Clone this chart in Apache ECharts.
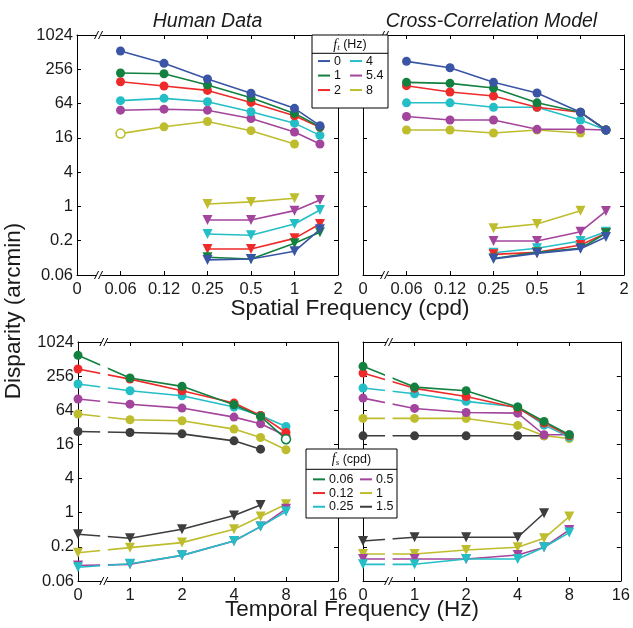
<!DOCTYPE html>
<html><head><meta charset="utf-8">
<script src="https://cdn.jsdelivr.net/npm/echarts@6/dist/echarts.min.js"></script>
<style>html,body{margin:0;padding:0;background:#fff}#c{width:633px;height:628px}</style>
</head><body><div id="c"></div>
<script>
// ---------------- DATA ----------------
const spatialFreqs = [0.0625, 0.125, 0.25, 0.5, 1, 1.5];   // cpd (plotted positions)
const temporalFreqs = [0, 1, 2, 4, 5.7, 8];                // Hz ("0" sits at the axis origin)
const spatialTickLabels = ['0', '0.06', '0.12', '0.25', '0.5', '1', '2'];
const temporalTickLabels = ['0', '1', '2', '4', '8', '16'];
const disparityTickLabels = ['0.06', '0.2', '1', '4', '16', '64', '256', '1024'];
const ftNames = ['0', '1', '2', '4', '5.4', '8'];           // f_t (Hz)
const fsNames = ['0.06', '0.12', '0.25', '0.5', '1', '1.5']; // f_s (cpd)

// Human data vs spatial frequency: upper thresholds (circles), one row per f_t
const humanSpatialUpper = [
  [536, 326, 173, 97, 52.8, 26.2],
  [220, 214, 136, 81, 43, 25],
  [155, 130, 109, 67, 39, 24.5],
  [72, 79, 69, 46, 29, 17.7],
  [49, 51, 49, 35, 20.3, 12.5],
  [19, 25, 31, 21.4, 12.5, null]
];
// Human data vs spatial frequency: lower thresholds (triangles)
const humanSpatialLower = [
  [null, null, 0.115, 0.119, 0.163, 0.396],
  [null, null, 0.128, 0.119, 0.225, 0.351],
  [null, null, 0.179, 0.179, 0.275, 0.49],
  [null, null, 0.328, 0.311, 0.49, 0.866],
  [null, null, 0.578, 0.578, 0.843, 1.30],
  [null, null, 1.10, 1.20, 1.39, null]
];
// Model vs spatial frequency
const modelSpatialUpper = [
  [353, 273, 151, 98, 45, 22],
  [151, 145, 120, 66, 45, 22],
  [132, 102, 87, 55, 45, 22],
  [66, 66, 55, 55, 33, 22],
  [38, 33, 33, 22.6, 22.6, 22],
  [22, 22, 19.5, 22, 19.5, null]
];
const modelSpatialLower = [
  [null, null, 0.12, 0.15, 0.18, 0.29],
  [null, null, 0.122, 0.156, 0.184, 0.337],
  [null, null, 0.144, 0.156, 0.21, 0.337],
  [null, null, 0.154, 0.184, 0.247, 0.36],
  [null, null, 0.247, 0.247, 0.36, 0.83],
  [null, null, 0.412, 0.49, 0.843, null]
];
// Human data vs temporal frequency, one row per f_s
const humanTemporalUpper = [
  [596, 237, 169, 80, 49.8, 19.8],
  [342, 227, 141.5, 85.7, 51.9, 26],
  [186, 141.5, 115.5, 73, 51.9, 33.2],
  [101, 82, 70, 48.5, 37, 22.7],
  [55, 43.5, 41.8, 29.8, 21.2, 12.9],
  [27.1, 26, 24.6, 18.5, 13.2, null]
];
const humanTemporalLower = [
  null,
  null,
  [0.109, 0.126, 0.177, 0.318, 0.569, 1.05],
  [0.117, 0.123, 0.177, 0.318, 0.569, 1.17],
  [0.197, 0.242, 0.297, 0.51, 0.855, 1.41],
  [0.417, 0.354, 0.51, 0.89, 1.37, null]
];
// Model vs temporal frequency
const modelTemporalUpper = [
  [381, 164, 141.5, 73, 40.7, 23.7],
  [290, 156, 112, 70, 38, 22.7],
  [158, 125, 92, 73, 35, 21.5],
  [105, 69, 58.6, 57, 23.7, 23.7],
  [46, 46, 46, 34.6, 22.7, 20.4],
  [22.7, 22.7, 22.7, 22.7, 22.7, null]
];
const modelTemporalLower = [
  null,
  null,
  [0.123, 0.123, 0.153, 0.153, 0.246, 0.446],
  [0.153, 0.153, 0.153, 0.18, 0.246, 0.497],
  [0.187, 0.187, 0.22, 0.246, 0.354, 0.855],
  [0.318, 0.369, 0.369, 0.369, 0.979, null]
];
// open (unfilled) markers: [panel, row, index]
const openMarkers = [['humanSpatialUpper', 5, 0], ['humanTemporalUpper', 0, 5]];

// ---------------- STYLE ----------------
const ftColors = ['#3a55a6', '#12803f', '#ee2a2a', '#23bec6', '#a3449d', '#bebd2e'];
const fsColors = ['#12803f', '#ee2a2a', '#23bec6', '#a3449d', '#bebd2e', '#3d3d3d'];
const FONT = '"Liberation Sans", Arial, Helvetica, sans-serif';
const grids = [
  {left: 77, top: 35, width: 261, height: 240},
  {left: 363, top: 35, width: 261, height: 240},
  {left: 78, top: 342, width: 260, height: 239},
  {left: 363, top: 342, width: 261, height: 239}
];
const SP_MIN = 2 ** -5, SP_MAX = 2, T_MIN = 0.5, T_MAX = 16;
// y axis is a base-2 logarithmic scale: value axis over log2(disparity)
const Y_MIN_EXP = -4, Y_MAX_EXP = 10, Y_STEP = 2;
const SP_BREAK = 2 ** -4.5, T_BREAK = 2 ** -0.5;

function labX(labels, minExp) {
  return v => {
    const e = Math.log2(v) - minExp;
    const i = Math.round(e);
    if (Math.abs(e - i) > 0.01) return '';
    return labels[i] !== undefined ? labels[i] : '';
  };
}
function xAxis(g, min, max, labels, minExp, top) {
  return {
    type: 'log', logBase: 2, gridIndex: g, min, max, interval: 1, position: top ? 'top' : 'bottom',
    axisLine: {show: true, onZero: false, lineStyle: {color: '#000', width: 1}},
    axisTick: {show: true, inside: true, length: 4, lineStyle: {color: '#000', width: 1}},
    minorTick: {show: false}, splitLine: {show: false},
    axisLabel: {show: !top, interval: 0, formatter: labX(labels, minExp), fontFamily: FONT,
      fontSize: 16.5, color: '#1a1a1a', margin: 6, hideOverlap: false}
  };
}
function yAxis(g, showLabel, right) {
  return {
    type: 'value', gridIndex: g, min: Y_MIN_EXP, max: Y_MAX_EXP, interval: Y_STEP, position: right ? 'right' : 'left',
    axisLine: {show: true, onZero: false, lineStyle: {color: '#000', width: 1}},
    axisTick: {show: true, inside: true, length: 4, lineStyle: {color: '#000', width: 1}},
    minorTick: {show: false}, splitLine: {show: false},
    axisLabel: {show: showLabel, interval: 0, fontFamily: FONT, fontSize: 16.5, color: '#1a1a1a', margin: 4, hideOverlap: false,
      formatter: v => disparityTickLabels[Math.round((v - Y_MIN_EXP) / Y_STEP)] || ''}
  };
}

const xAxes = [
  xAxis(0, SP_MIN, SP_MAX, spatialTickLabels, -5, false),
  xAxis(1, SP_MIN, SP_MAX, spatialTickLabels, -5, false),
  xAxis(2, T_MIN, T_MAX, temporalTickLabels, -1, false),
  xAxis(3, T_MIN, T_MAX, temporalTickLabels, -1, false),
  xAxis(0, SP_MIN, SP_MAX, spatialTickLabels, -5, true),
  xAxis(1, SP_MIN, SP_MAX, spatialTickLabels, -5, true),
  xAxis(2, T_MIN, T_MAX, temporalTickLabels, -1, true),
  xAxis(3, T_MIN, T_MAX, temporalTickLabels, -1, true)
];
const yAxes = [
  yAxis(0, true, false), yAxis(1, false, false), yAxis(2, true, false), yAxis(3, false, false),
  yAxis(0, false, true), yAxis(1, false, true), yAxis(2, false, true), yAxis(3, false, true)
];

const series = [];
const panels = [
  {key: 'humanSpatialUpper', rows: humanSpatialUpper, g: 0, xs: spatialFreqs, names: ftNames, pre: 'ft', colors: ftColors, sym: 'circle'},
  {key: 'humanSpatialLower', rows: humanSpatialLower, g: 0, xs: spatialFreqs, names: ftNames, pre: 'ft', colors: ftColors, sym: 'triangle'},
  {key: 'modelSpatialUpper', rows: modelSpatialUpper, g: 1, xs: spatialFreqs, names: ftNames, pre: 'ft', colors: ftColors, sym: 'circle'},
  {key: 'modelSpatialLower', rows: modelSpatialLower, g: 1, xs: spatialFreqs, names: ftNames, pre: 'ft', colors: ftColors, sym: 'triangle'},
  {key: 'humanTemporalUpper', rows: humanTemporalUpper, g: 2, xs: temporalFreqs, names: fsNames, pre: 'fs', colors: fsColors, sym: 'circle'},
  {key: 'humanTemporalLower', rows: humanTemporalLower, g: 2, xs: temporalFreqs, names: fsNames, pre: 'fs', colors: fsColors, sym: 'triangle'},
  {key: 'modelTemporalUpper', rows: modelTemporalUpper, g: 3, xs: temporalFreqs, names: fsNames, pre: 'fs', colors: fsColors, sym: 'circle'},
  {key: 'modelTemporalLower', rows: modelTemporalLower, g: 3, xs: temporalFreqs, names: fsNames, pre: 'fs', colors: fsColors, sym: 'triangle'}
];
panels.forEach(p => {
  for (let r = p.rows.length - 1; r >= 0; r--) {
    const row = p.rows[r];
    if (!row) continue;
    const c = p.colors[r];
    const data = [];
    row.forEach((v, i) => {
      if (v == null) return;
      const x = p.xs[i] === 0 ? T_MIN : p.xs[i];
      const y = Math.log2(v);
      const open = openMarkers.some(o => o[0] === p.key && o[1] === r && o[2] === i);
      data.push(open ? {value: [x, y], itemStyle: {color: '#fff', borderColor: c, borderWidth: 1.5}} : [x, y]);
    });
    series.push({
      type: 'line', name: p.pre + p.names[r], xAxisIndex: p.g, yAxisIndex: p.g, data,
      color: c, symbol: p.sym, symbolSize: p.sym === 'circle' ? 9 : 10, symbolRotate: p.sym === 'circle' ? 0 : 180,
      showAllSymbol: true, lineStyle: {color: c, width: 1.6}, itemStyle: {color: c}, z: 3,
      emphasis: {disabled: true}, silent: true
    });
  }
});

function legendCol(names, pre, left, top, rowH, fontSize) {
  return {
    show: true, orient: 'vertical', left, top, padding: 0, itemGap: 0, itemWidth: 12, itemHeight: 2,
    icon: 'rect', selectedMode: false, z: 30,
    data: names.map(n => pre + n),
    formatter: n => n.replace(/^f[st]/, ''),
    textStyle: {fontFamily: FONT, fontSize, color: '#111', lineHeight: rowH, padding: [0, 0, 0, -1]}
  };
}
const legends = [
  legendCol(ftNames.slice(0, 3), 'ft', 318, 53.8, 14.5, 12.5),
  legendCol(ftNames.slice(3), 'ft', 350, 53.8, 14.5, 12.5),
  legendCol(fsNames.slice(0, 3), 'fs', 313, 472.5, 13.7, 12.5),
  legendCol(fsNames.slice(3), 'fs', 360, 472.5, 13.7, 12.5)
];

const chart = echarts.init(document.getElementById('c'), null, {renderer: 'canvas'});
chart.setOption({
  animation: false,
  backgroundColor: '#fff',
  grid: grids.map(g => Object.assign({containLabel: false, show: false}, g)),
  xAxis: xAxes, yAxis: yAxes, series, legend: legends
});

// ---- decorations: axis breaks, legend boxes, titles ----
const G = [];
function breakMarks(xi, g, bx, lineGap) {
  const px = chart.convertToPixel({xAxisIndex: xi}, bx);
  const gr = grids[g];
  const yt = gr.top, yb = gr.top + gr.height;
  if (lineGap) {
    G.push({type: 'rect', z: 20, silent: true, shape: {x: px - 3.8, y: yt + 1.5, width: 7.6, height: gr.height - 3}, style: {fill: '#fff'}});
  }
  [yt, yb].forEach(y => {
    G.push({type: 'rect', z: 21, silent: true, shape: {x: px - 2.5, y: y - 1.5, width: 5, height: 3}, style: {fill: '#fff'}});
    [-2.2, 1.8].forEach(dx => {
      G.push({type: 'line', z: 22, silent: true, shape: {x1: px + dx - 2, y1: y + 4, x2: px + dx + 2, y2: y - 4}, style: {stroke: '#000', lineWidth: 1}});
    });
  });
}
breakMarks(0, 0, SP_BREAK, false);
breakMarks(1, 1, SP_BREAK, false);
breakMarks(2, 2, T_BREAK, true);
breakMarks(3, 3, T_BREAK, true);

function legendBox(x, y, w, h, divY, head, sub, unit, hy) {
  G.push({type: 'rect', z: 25, silent: true, shape: {x, y, width: w, height: h}, style: {fill: '#fff', stroke: '#000', lineWidth: 1}});
  G.push({type: 'line', z: 26, silent: true, shape: {x1: x, y1: divY, x2: x + w, y2: divY}, style: {stroke: '#000', lineWidth: 1}});
  G.push({type: 'text', z: 26, silent: true, x: x + w / 2, y: hy, style: {
    text: '{f|' + head + '}{s|' + sub + '}{u| ' + unit + '}', align: 'center', verticalAlign: 'middle',
    rich: {
      f: {fontFamily: '"Liberation Serif", "DejaVu Serif", serif', fontStyle: 'italic', fontSize: 14, fill: '#111'},
      s: {fontFamily: '"Liberation Serif", serif', fontStyle: 'italic', fontSize: 9, fill: '#111', padding: [6, 0, 0, 0]},
      u: {fontFamily: FONT, fontSize: 12.5, fill: '#111'}
    }
  }});
}
legendBox(312, 35, 76, 73, 53.3, 'f', 't', '(Hz)', 45);
legendBox(306, 449, 91, 69, 469.3, 'f', 's', '(cpd)', 459.5);

function txt(t, x, y, size, extra) {
  G.push({type: 'text', z: 30, silent: true, x, y, style: Object.assign({
    text: t, fontFamily: FONT, fontSize: size, fill: '#1a1a1a', align: 'center', verticalAlign: 'middle'}, extra || {})});
}
txt('Human Data', 207.5, 21.5, 19.5, {fontStyle: 'italic'});
txt('Cross-Correlation Model', 491.5, 21.5, 19.5, {fontStyle: 'italic'});
txt('Spatial Frequency (cpd)', 350, 309, 22.5);
txt('Temporal Frequency (Hz)', 352, 610, 22.5);
G.push({type: 'text', z: 30, silent: true, x: 14, y: 311, rotation: Math.PI / 2, style: {
  text: 'Disparity (arcmin)', fontFamily: FONT, fontSize: 22.5, fill: '#1a1a1a', align: 'center', verticalAlign: 'middle'}});

chart.setOption({graphic: {elements: G}});
</script>
</body></html>
